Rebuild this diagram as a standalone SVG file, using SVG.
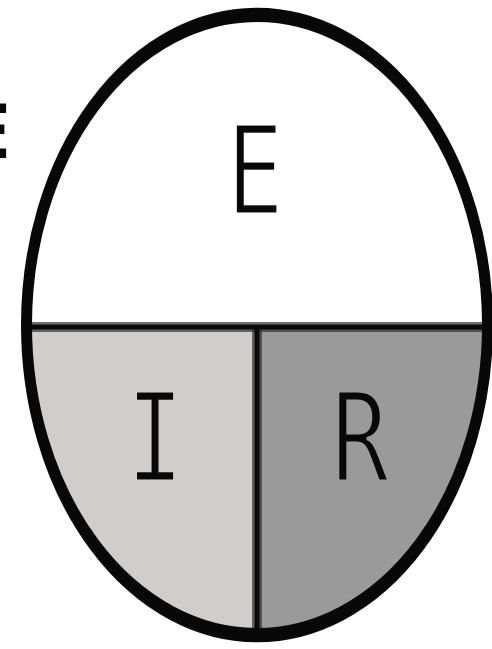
<svg xmlns="http://www.w3.org/2000/svg" width="492" height="649" viewBox="0 0 492 649">
  <style>
    .lbl { font-family: "DejaVu Sans Mono", "Liberation Mono", monospace; fill: #080808; text-anchor: middle; stroke-width: 2.4; }
    .div { fill: none; stroke: #0a0a0a; stroke-width: 5; }
    .divs { fill: none; stroke: #333333; stroke-width: 10; }
  </style>
  <defs>
    <clipPath id="egg">
      <ellipse cx="257" cy="325" rx="230.5" ry="310"/>
    </clipPath>
  </defs>
  <rect x="0" y="0" width="492" height="649" fill="#ffffff"/>
  <g id="outside-label">
    <text class="lbl" x="10" y="158" font-size="58" font-weight="bold" style="text-anchor:end;stroke:none" transform="translate(0,158) scale(1,1.3) translate(0,-158)">E</text>
  </g>
  <g clip-path="url(#egg)">
    <g id="region-E">
      <rect x="0" y="0" width="492" height="327" fill="#ffffff"/>
    </g>
    <g id="region-I">
      <rect x="0" y="327" width="257" height="330" fill="#cfcecc"/>
    </g>
    <g id="region-R">
      <rect x="257" y="327" width="240" height="330" fill="#9a9a9a"/>
    </g>
    <g id="dividers">
      <line class="divs" x1="0" y1="327" x2="492" y2="327" stroke-opacity="0.7"/>
      <line class="divs" x1="257" y1="327" x2="257" y2="649" stroke-opacity="0.7"/>
      <line class="div" x1="0" y1="327" x2="492" y2="327"/>
      <line class="div" x1="257" y1="327" x2="257" y2="649"/>
    </g>
  </g>
  <g id="outline">
    <ellipse cx="257" cy="250" rx="230.5" ry="238.5" fill="none" stroke="#080808" stroke-width="11" transform="scale(1,1.3)"/>
  </g>
  <g id="label-E">
    <text class="lbl" font-size="95" stroke="#ffffff" transform="translate(255,214) scale(1,1.3)">E</text>
  </g>
  <g id="label-I">
    <text class="lbl" font-size="95" stroke="#cfcecc" transform="translate(155,481) scale(1,1.3)">I</text>
  </g>
  <g id="label-R">
    <text class="lbl" font-size="95" stroke="#9a9a9a" transform="translate(360,481) scale(1,1.3)">R</text>
  </g>
</svg>
